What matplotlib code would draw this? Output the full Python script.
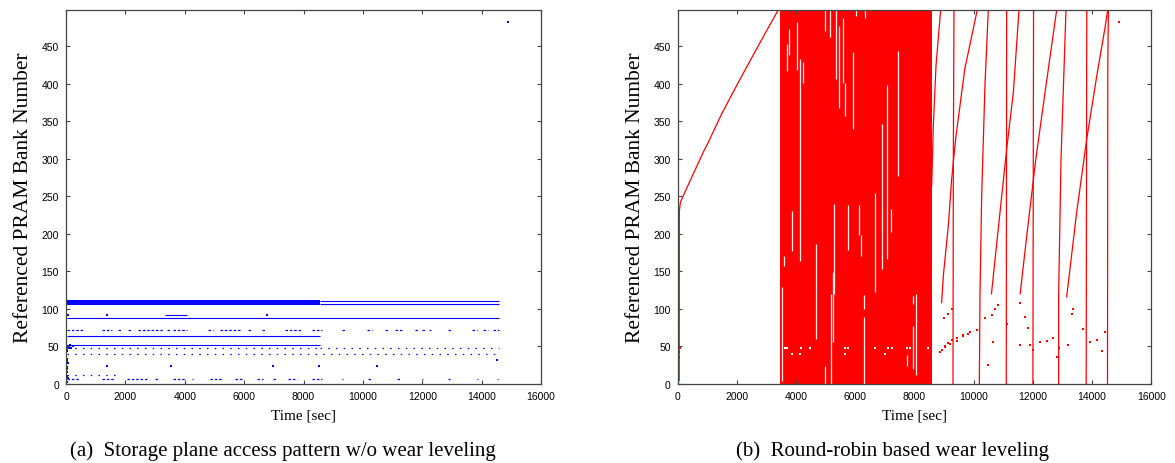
import matplotlib
matplotlib.use("Agg")
import matplotlib.pyplot as plt

# ---------------- (a) storage plane access pattern, no wear leveling ----------------
# rows of accesses drawn as lines: (bank, t_start, t_end)
a_heavy_rows = [(110, 40, 8560), (108.5, 40, 8560), (107, 40, 8560)]
a_light_rows = [(110, 8560, 14570), (107, 8560, 14570), (87, 40, 14570),
                (64, 40, 8560), (51, 40, 8560), (92, 3345, 4066)]
# rows that only show up as sparse dots
a_dotted_rows = [(47, 40, 8560), (47, 8560, 14570), (40, 40, 14570), (11, 40, 1820)]
# rows made of short bursts: bank -> list of (t_start, t_end)
a_burst_bank = [72, 6]
a_bursts = [
    [(45, 584), (1201, 1538), (1763, 1874), (2100, 2212), (2436, 3278), (3390, 3503),
     (3615, 4064), (4794, 4962), (5187, 5861), (6141, 6254), (6590, 6703), (7376, 7937),
     (8274, 8611), (9284, 9397), (10127, 10295), (10744, 10856), (11081, 11362),
     (11755, 11867), (11979, 12092), (12240, 12280), (12878, 12990), (13663, 13832),
     (14056, 14225), (14393, 14573)],
    [(45, 471), (1201, 1650), (2043, 2717), (2998, 3110), (3615, 4008), (4233, 4289),
     (4850, 5299), (5693, 5917), (6422, 6647), (6984, 7096), (7489, 7769), (8274, 8611),
     (9284, 9341), (10183, 10295), (11137, 11250), (11980, 12036), (12878, 12934),
     (13832, 13888), (14505, 14561)],
]
# single accesses
a_dot_t = [10, 30, 60, 90, 130, 170, 220, 20, 50, 15, 40, 25, 60, 10, 35, 20, 45, 15, 30,
           55, 10, 25, 78, 1370, 6758, 1370, 3536, 6984, 8533, 10463, 14505, 14900]
a_dot_bank = [48, 50, 49, 47, 51, 48, 50, 45, 43, 38, 33, 30, 27, 25, 22, 19, 16, 13, 10,
              8, 4, 2, 92, 92, 92, 23, 23, 23, 23, 23, 32, 482]

# ---------------- (b) round-robin wear leveling ----------------
# sweeps through the banks: list of (t, bank) polylines
b_sweeps = [
    [(0, 0), (50, 5), (55, 230), (90, 242), (190, 251), (865, 309), (1034, 322),
     (1485, 360), (2048, 402), (2724, 451), (3400, 499)],
    [(8580, 264), (8636, 344), (8726, 424), (8884, 499)],
    [(9300, 0), (9312, 300), (9334, 499)],
    [(8917, 108), (8974, 144), (9143, 211), (9255, 273), (9400, 330), (9700, 420), (10122, 499)],
    [(10190, 0), (10213, 120), (10269, 250), (10382, 400), (10494, 499)],
    [(10600, 120), (10889, 229), (11114, 313), (11340, 389), (11531, 499)],
    [(11100, 0), (11114, 499)],
    [(11570, 120), (11800, 200), (12100, 300), (12450, 400), (12804, 499)],
    [(12000, 0), (12022, 499)],
    [(12870, 0), (12870, 120), (12950, 300), (13118, 499)],
    [(13141, 116), (13480, 229), (13817, 326), (14155, 410), (14437, 475), (14527, 499)],
    [(13800, 0), (13820, 499)],
    [(14520, 0), (14530, 420), (14550, 499)],
]
# period of continuous accesses over all banks
b_busy = (3440, 8575)
# short idle gaps inside the busy period: (t, bank_from, bank_to)
b_gaps = [(3512, 4, 129), (3591, 157, 171), (3682, 417, 453), (3771, 439, 473),
          (3850, 177, 231), (4019, 419, 482), (4132, 164, 433), (4244, 401, 429),
          (4672, 60, 186), (4976, 0, 24), (4976, 470, 499), (5145, 463, 499),
          (5168, 0, 120), (5235, 55, 149), (5292, 120, 240), (5337, 406, 499),
          (5461, 368, 477), (5596, 401, 488), (5652, 357, 401), (5764, 178, 238),
          (5934, 340, 443), (6013, 491, 499), (6135, 198, 238), (6191, 171, 198),
          (6303, 100, 118), (6303, 0, 89), (6329, 488, 499), (6667, 122, 255),
          (6892, 153, 346), (7072, 166, 398), (7207, 202, 233), (7455, 277, 444),
          (7748, 24, 38), (7962, 106, 117), (7962, 20, 77), (8039, 11, 120)]
b_gap_dot_t = [3626, 3700, 4154, 4470, 5652, 5764, 6667, 7117, 7230, 7736, 7849, 8468,
               3850, 4132, 5652, 7005]
b_gap_dot_bank = [48, 48, 48, 48, 48, 48, 48, 48, 48, 48, 48, 48, 40, 40, 40, 40]
# scattered single accesses
b_dot_t = [8997, 9143, 9256, 8917, 9031, 9143, 9256, 9425, 9650, 9875, 10100, 10382,
           10607, 10720, 10832, 11114, 11565, 11734, 11846, 12241, 12466, 12691, 12894,
           13198, 13367, 13311, 13705, 13930, 14155, 14324, 14437, 10494, 10663, 11565,
           11903, 12015, 12804, 8861, 9030, 9199, 9424, 9650, 9819, 30, 50, 70, 14900]
b_dot_bank = [87, 93, 100, 45, 50, 54, 58, 61, 65, 69, 72, 87, 91, 100, 105, 80, 108,
              89, 74, 56, 57, 61, 47, 52, 100, 93, 73, 56, 58, 44, 69, 25, 56, 52, 52,
              45, 36, 42, 49, 53, 57, 64, 66, 35, 42, 48, 482]

x_ticks = list(range(0, 16001, 2000))
y_ticks = list(range(0, 451, 50))

plt.rcParams["font.family"] = ["Liberation Sans", "DejaVu Sans"]
serif = ["Liberation Serif", "DejaVu Serif"]

fig = plt.figure(figsize=(11.75, 4.64), dpi=100)
ax_a = fig.add_axes([66 / 1175, 1 - 384.7 / 464, 475 / 1175, 374 / 464])
ax_b = fig.add_axes([677.7 / 1175, 1 - 384.7 / 464, 473.6 / 1175, 374 / 464])

blue = "#0000ff"
red = "#ff0000"

def rows(ax, rr, **kw):
    ax.hlines([r[0] for r in rr], [r[1] for r in rr], [r[2] for r in rr], **kw)

# panel (a)
rows(ax_a, a_heavy_rows, color=blue, lw=1.4)
rows(ax_a, a_light_rows, color=blue, lw=0.8)
rows(ax_a, a_dotted_rows, color=blue, lw=0.9, linestyles=(0, (1.2, 5)))
for bank, bursts in zip(a_burst_bank, a_bursts):
    ax_a.hlines([bank] * len(bursts), [b[0] for b in bursts], [b[1] for b in bursts],
                color=blue, lw=0.9, linestyles=(0, (2, 1.5)))
ax_a.scatter(a_dot_t, a_dot_bank, s=2.5, marker="s", color=blue, linewidths=0)

# panel (b)
ax_b.axvspan(b_busy[0], b_busy[1], color=red, lw=0)
ax_b.vlines([g[0] for g in b_gaps], [g[1] for g in b_gaps], [g[2] for g in b_gaps],
            color="#fff0f0", lw=0.9)
ax_b.scatter(b_gap_dot_t, b_gap_dot_bank, s=2.5, marker="s", color="white", linewidths=0)
for sweep in b_sweeps:
    ax_b.plot([p[0] for p in sweep], [p[1] for p in sweep], color=red, lw=0.9)
ax_b.scatter(b_dot_t, b_dot_bank, s=2.5, marker="s", color=red, linewidths=0)

for ax in (ax_a, ax_b):
    ax.set_xlim(0, 16000)
    ax.set_ylim(0, 499)
    ax.set_xticks(x_ticks)
    ax.set_yticks(y_ticks)
    ax.tick_params(direction="in", length=3.2, width=0.8, color="#444444",
                   top=True, right=True, labelsize=7.5, pad=5)
    for s in ax.spines.values():
        s.set_color("#444444")
        s.set_linewidth(0.9)
    ax.set_xlabel("Time [sec]", family=serif, fontsize=11, labelpad=6)
    ax.set_ylabel("Referenced PRAM Bank Number", family=serif, fontsize=15.5, labelpad=6)

fig.text(283 / 1175, 1 - 451 / 464, "(a)  Storage plane access pattern w/o wear leveling",
         family=serif, fontsize=15, ha="center", va="center")
fig.text(892 / 1175, 1 - 451 / 464, "(b)  Round-robin based wear leveling",
         family=serif, fontsize=15, ha="center", va="center")

fig.savefig("out.png", dpi=100)
